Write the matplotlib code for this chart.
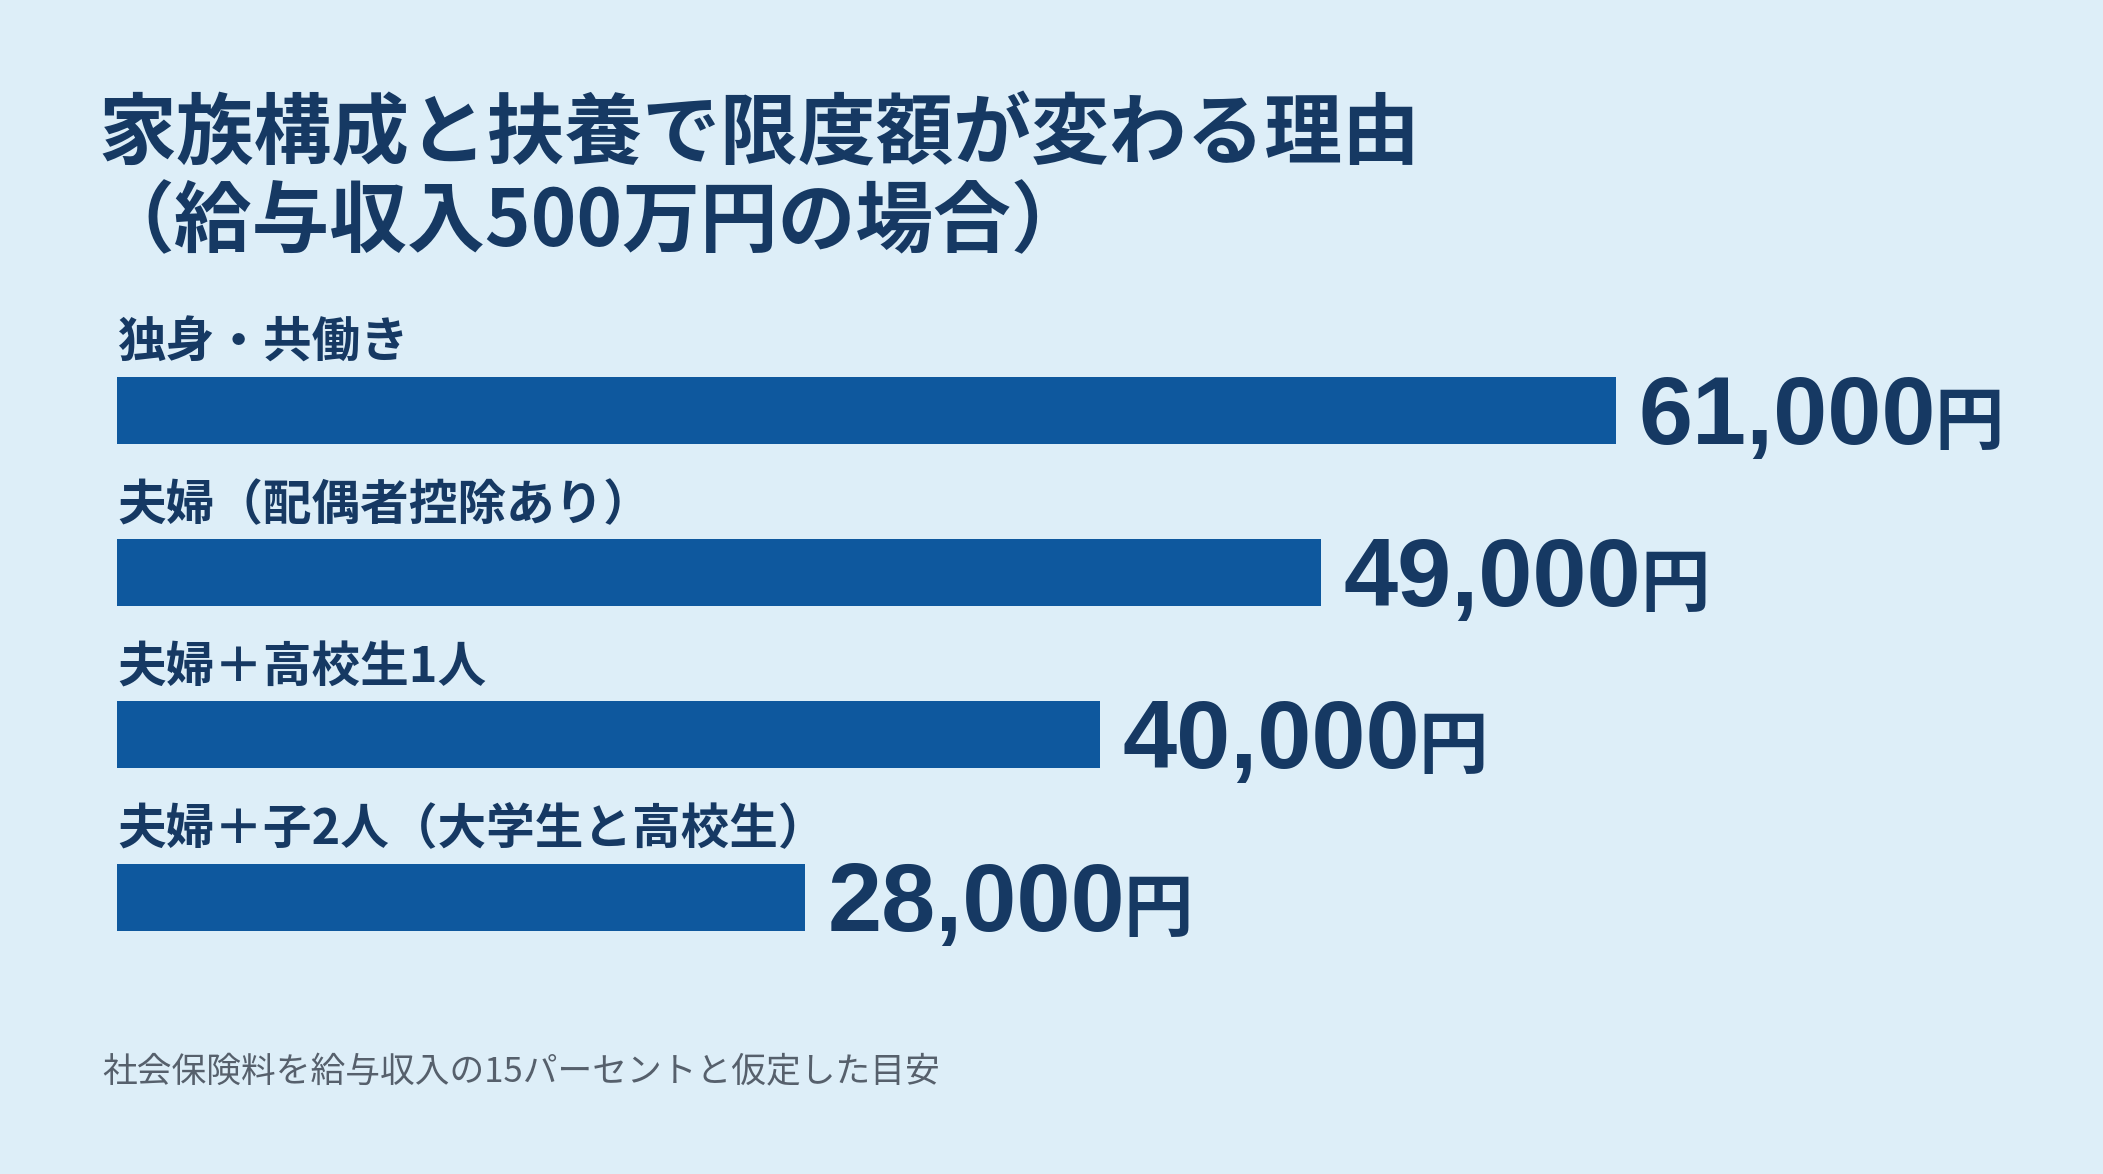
import matplotlib
matplotlib.use("Agg")
import matplotlib.pyplot as plt
from matplotlib.transforms import offset_copy

plt.rcParams['font.family'] = ['Noto Sans CJK JP', 'DejaVu Sans']

# data
categories = ['独身・共働き', '夫婦（配偶者控除あり）', '夫婦＋高校生1人', '夫婦＋子2人（大学生と高校生）']
limits = [61000, 49000, 40000, 28000]
title_1 = '家族構成と扶養で限度額が変わる理由'
title_2 = '（給与収入500万円の場合）'
note = '社会保険料を給与収入の15パーセントと仮定した目安'

BG = '#ddeef8'
BAR = '#0e589e'
NAVY = '#163963'
GRAY = '#56606c'

W, H = 2103, 1174
fig = plt.figure(figsize=(W / 100, H / 100), dpi=100, facecolor=BG)

# axes placed so the bars land where they sit in the picture
ax = fig.add_axes([117 / W, 1 - 978.1 / H, (1616 - 117) / W, 648.7 / H])
ax.set_facecolor('none')
ypos = list(range(len(categories)))
bh = 0.413
ax.barh(ypos, limits, height=bh, color=BAR, edgecolor='none')
ax.set_xlim(0, max(limits))
ax.set_ylim(len(categories) - 0.5, -0.5)
ax.axis('off')

for y, cat in zip(ypos, categories):
    ax.text(0, y - bh / 2 - 0.117, cat, fontsize=35, fontweight='bold',
            color=NAVY, va='baseline', ha='left')

nums = []
for y, v in zip(ypos, limits):
    tr = offset_copy(ax.transData, fig=fig, x=16, y=0, units='points')
    t = ax.text(v, y + bh / 2, f'{v:,}', transform=tr, fontsize=70,
                fontweight='bold', family=['Liberation Sans', 'DejaVu Sans'],
                color=NAVY, va='baseline', ha='left')
    nums.append((t, y))

fig.text(98 / W, 1 - 158 / H, title_1, fontsize=56, fontweight='bold',
         color=NAVY, va='baseline', ha='left')
fig.text(96 / W, 1 - 246 / H, title_2, fontsize=56, fontweight='bold',
         color=NAVY, va='baseline', ha='left')
fig.text(102 / W, 1 - 1082 / H, note, fontsize=25, color=GRAY,
         va='baseline', ha='left')

# put the smaller 円 right after each number
fig.canvas.draw()
r = fig.canvas.get_renderer()
for t, y in nums:
    bb = t.get_window_extent(r)
    yb = ax.transData.transform((0, y + bh / 2))[1]
    fig.text((bb.x1 - 1) / W, yb / H, '円', fontsize=50, fontweight='bold',
             color=NAVY, va='baseline', ha='left')

fig.savefig('out.png', dpi=100, facecolor=BG)
